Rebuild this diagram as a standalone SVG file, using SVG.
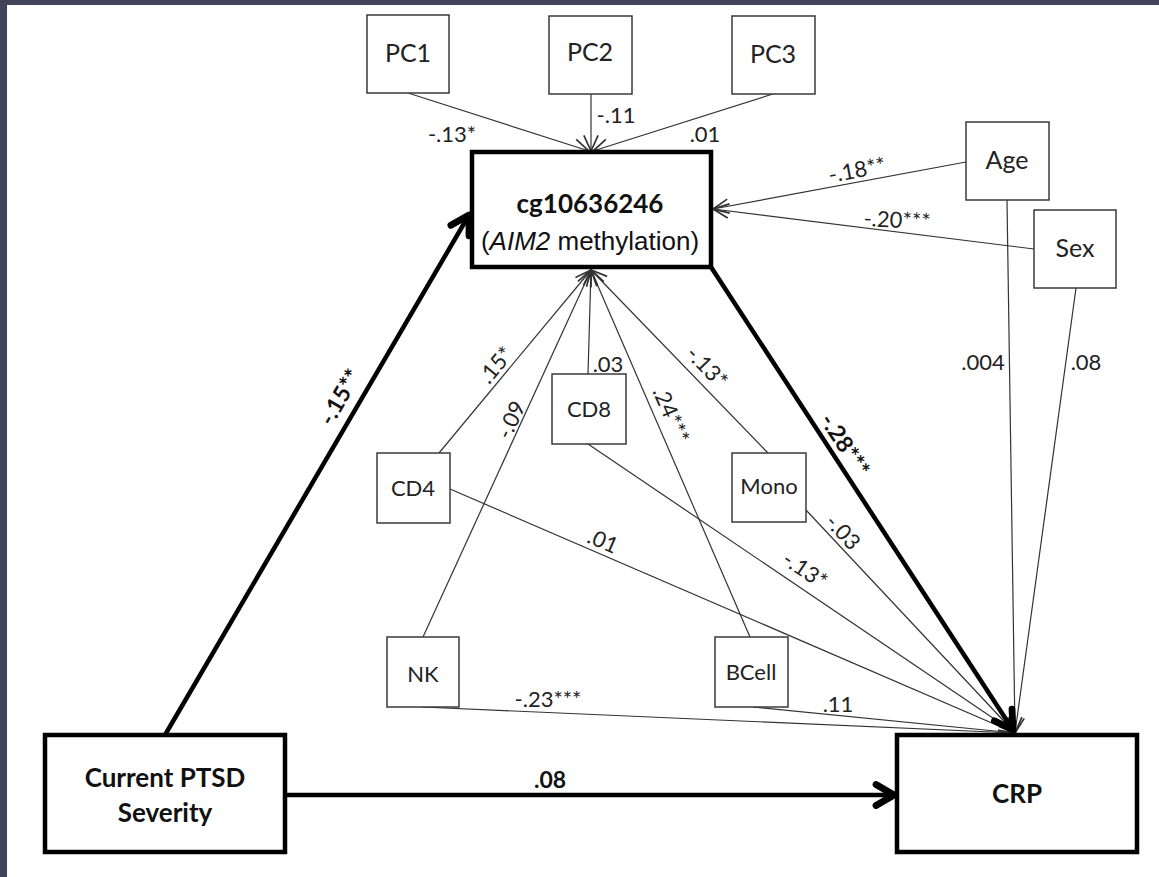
<svg xmlns="http://www.w3.org/2000/svg" width="1159" height="877" viewBox="0 0 1159 877">
<style>
.bg{fill:#ffffff}
.band{fill:#42445a}
.box{fill:#ffffff;stroke:#3a3a3a;stroke-width:1.5}
.bigbox{fill:#ffffff;stroke:#000;stroke-width:4.5}
.nt{font-family:Lato,"Open Sans",sans-serif;font-size:25px;fill:#222;text-anchor:middle}
.ct{font-family:Lato,"Open Sans",sans-serif;font-size:22px;fill:#222;text-anchor:middle}
.bt{font-family:Lato,"Open Sans",sans-serif;font-size:26px;font-weight:bold;fill:#111;text-anchor:middle}
.at{font-family:"Liberation Sans",Arial,sans-serif;font-size:26px;fill:#111;text-anchor:middle}
.lb{font-family:Lato,"Open Sans",sans-serif;font-size:22px;fill:#222;text-anchor:middle}
.lbb{font-family:Lato,"Open Sans",sans-serif;font-size:23px;font-weight:bold;fill:#111;text-anchor:middle}
.thin{stroke:#333;stroke-width:1.2;fill:none;marker-end:url(#ah)}
.thick{stroke:#000;stroke-width:4.5;fill:none;marker-end:url(#ahb)}
</style>
<defs>
<marker id="ah" markerUnits="userSpaceOnUse" markerWidth="20" markerHeight="20" viewBox="-12 -7 14 14" refX="0" refY="0" orient="auto">
<path d="M-11,-5 L0,0 L-11,5" fill="none" stroke="#333" stroke-width="1.2"/>
</marker>
<marker id="ahb" markerUnits="userSpaceOnUse" markerWidth="30" markerHeight="30" viewBox="-16 -10 20 20" refX="0" refY="0" orient="auto">
<path d="M-12,-7 L0,0 L-12,7" fill="none" stroke="#000" stroke-width="4.5" stroke-linecap="round" stroke-linejoin="round"/>
</marker>
</defs>
<rect class="bg" x="0" y="0" width="1159" height="877"/>
<rect class="band" x="0" y="0" width="1159" height="5"/>
<rect class="band" x="0" y="0" width="7" height="877"/>

<g id="connectors">
<line class="thin" x1="408" y1="93" x2="589" y2="151"/>
<line class="thin" x1="591" y1="94" x2="591" y2="151"/>
<line class="thin" x1="773" y1="94" x2="593" y2="151"/>
<line class="thin" x1="966" y1="162" x2="713" y2="209"/>
<line class="thin" x1="1034" y1="249" x2="713" y2="209"/>
<line class="thin" x1="439" y1="453" x2="591" y2="270"/>
<line class="thin" x1="423" y1="637" x2="591" y2="270"/>
<line class="thin" x1="588" y1="374" x2="591" y2="270"/>
<line class="thin" x1="750" y1="637" x2="591" y2="270"/>
<line class="thin" x1="768" y1="453" x2="591" y2="270"/>
<line class="thin" x1="450" y1="489" x2="1015" y2="733"/>
<line class="thin" x1="588" y1="444" x2="1015" y2="733"/>
<line class="thin" x1="806" y1="510" x2="1015" y2="733"/>
<line class="thin" x1="422" y1="707" x2="1015" y2="733"/>
<line class="thin" x1="753" y1="707" x2="1015" y2="733"/>
<line class="thin" x1="1007" y1="200" x2="1015" y2="733"/>
<line class="thin" x1="1076" y1="288" x2="1015" y2="733"/>
<line class="thick" x1="711" y1="267" x2="1013" y2="730"/>
<line class="thick" x1="165" y1="735" x2="469" y2="215"/>
<line class="thick" x1="285" y1="795" x2="894" y2="795"/>

<text class="lb" x="452" y="142">-.13*</text>
<text class="lb" x="616" y="123">-.11</text>
<text class="lb" x="705" y="142">.01</text>
<text class="lb" transform="translate(857,170) rotate(-10.5)" dy="0.35em">-.18**</text>
<text class="lb" transform="translate(897,220) rotate(3)" dy="0.35em">-.20***</text>
<text class="lb" x="983" y="370">.004</text>
<text class="lb" x="1086" y="370">.08</text>
<text class="lb" transform="translate(496,365) rotate(-50)" dy="0.35em">.15*</text>
<text class="lb" transform="translate(511,420) rotate(-65)" dy="0.35em">-.09</text>
<text class="lb" x="608" y="372">.03</text>
<text class="lb" transform="translate(671,415) rotate(66.6)" dy="0.35em">.24***</text>
<text class="lb" transform="translate(707,367) rotate(46)" dy="0.35em">-.13*</text>
<text class="lb" transform="translate(603,541) rotate(23.4)" dy="0.35em">.01</text>
<text class="lb" transform="translate(805,570) rotate(34)" dy="0.35em">-.13*</text>
<text class="lb" transform="translate(843,532) rotate(47)" dy="0.35em">-.03</text>
<text class="lb" x="548" y="707">-.23***</text>
<text class="lb" x="838" y="712">.11</text>
<text class="lbb" transform="translate(845,445) rotate(57)" dy="0.35em">-.28***</text>
<text class="lbb" transform="translate(340,397) rotate(-60)" dy="0.35em">-.15**</text>
<text class="lbb" x="550" y="788">.08</text>
</g>

<g id="node-pc1"><rect class="box" x="367" y="15" width="82" height="78"/><text class="nt" x="408" y="62">PC1</text></g>
<g id="node-pc2"><rect class="box" x="549" y="16" width="83" height="78"/><text class="nt" x="590" y="61">PC2</text></g>
<g id="node-pc3"><rect class="box" x="732" y="16" width="83" height="78"/><text class="nt" x="773" y="63">PC3</text></g>
<g id="node-cg"><rect class="bigbox" x="472" y="152" width="239" height="115"/>
<text class="bt" x="590" y="213">cg10636246</text>
<text class="at" x="590" y="250">(<tspan font-style="italic">AIM2</tspan> methylation)</text></g>
<g id="node-age"><rect class="box" x="966" y="122" width="83" height="78"/><text class="nt" x="1007" y="169">Age</text></g>
<g id="node-sex"><rect class="box" x="1034" y="210" width="82" height="78"/><text class="nt" x="1075" y="257">Sex</text></g>
<g id="node-cd8"><rect class="box" x="552" y="374" width="74" height="70"/><text class="ct" x="589" y="417">CD8</text></g>
<g id="node-cd4"><rect class="box" x="377" y="453" width="73" height="70"/><text class="ct" x="413" y="496">CD4</text></g>
<g id="node-mono"><rect class="box" x="732" y="453" width="74" height="69"/><text class="ct" x="769" y="494">Mono</text></g>
<g id="node-nk"><rect class="box" x="387" y="637" width="72" height="70"/><text class="ct" x="423" y="682">NK</text></g>
<g id="node-bcell"><rect class="box" x="715" y="637" width="73" height="70"/><text class="ct" x="751" y="680">BCell</text></g>
<g id="node-ptsd"><rect class="bigbox" x="45" y="735" width="240" height="117"/>
<text class="bt" x="165" y="787">Current PTSD</text>
<text class="bt" x="165" y="822">Severity</text></g>
<g id="node-crp"><rect class="bigbox" x="897" y="735" width="240" height="117"/><text class="bt" x="1017" y="803">CRP</text></g>
</svg>
